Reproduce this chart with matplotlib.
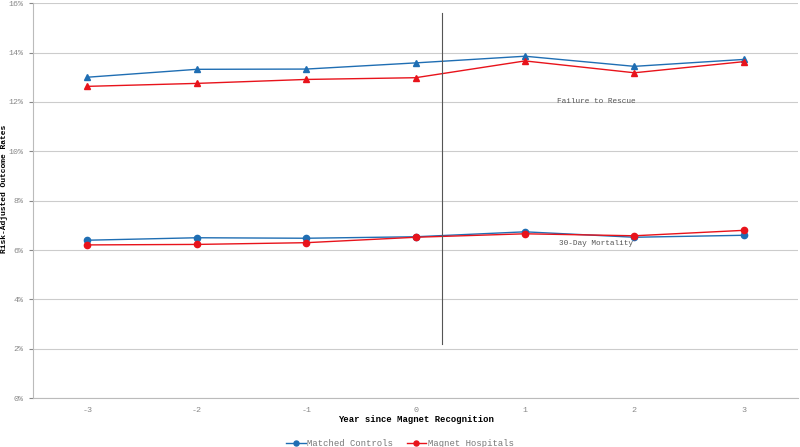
import numpy as np
import matplotlib.pyplot as plt

years = [-3, -2, -1, 0, 1, 2, 3]
ftr_controls = [13.00, 13.32, 13.33, 13.58, 13.85, 13.44, 13.72]
ftr_magnet = [12.63, 12.75, 12.91, 12.98, 13.66, 13.18, 13.63]
mort_controls = [6.40, 6.50, 6.48, 6.54, 6.74, 6.52, 6.60]
mort_magnet = [6.21, 6.23, 6.30, 6.52, 6.66, 6.58, 6.80]

blue = '#1f6eb3'
red = '#e8131b'

plt.rcParams['font.family'] = ['Liberation Mono', 'DejaVu Sans Mono']

fig = plt.figure(figsize=(8, 4.47), dpi=100)
ax = fig.add_axes([0.041, 0.109, 0.957, 0.884])
x = np.arange(len(years))

ax.plot(x, ftr_controls, color=blue, lw=1, marker='^', ms=4.5)
ax.plot(x, ftr_magnet, color=red, lw=1, marker='^', ms=4.5)
ax.plot(x, mort_controls, color=blue, lw=1, marker='o', ms=4.5, label='Matched Controls')
ax.plot(x, mort_magnet, color=red, lw=1, marker='o', ms=4.5, label='Magnet Hospitals')

# marker for magnet recognition
ax.plot([3.24, 3.24], [2.2, 15.6], color='#555555', lw=0.8)

ax.text(4.65, 12.0, 'Failure to Rescue', fontsize=5.6, color='#555555', ha='center', va='center')
ax.text(4.65, 6.25, '30-Day Mortality', fontsize=5.6, color='#555555', ha='center', va='center')

ax.set_xlim(-0.5, 6.5)
ax.set_ylim(0, 16)
ax.set_xticks(x)
ax.set_xticklabels([str(y) for y in years])
ax.set_yticks(np.arange(0, 17, 2))
ax.set_yticklabels([f'{v}%' for v in range(0, 17, 2)])
ax.tick_params(labelsize=6, colors='#888888', length=3, pad=4)
ax.tick_params(axis='x', length=0, pad=6)
ax.grid(axis='y', color='#cccccc', lw=0.8)
ax.set_axisbelow(True)
for s in ['top', 'right']:
    ax.spines[s].set_visible(False)
for s in ['left', 'bottom']:
    ax.spines[s].set_color('#bbbbbb')

ax.set_xlabel('Year since Magnet Recognition', fontsize=6.4, fontweight='bold', labelpad=1)
ax.set_ylabel('Risk-Adjusted Outcome Rates', fontsize=5.8, fontweight='bold')
ax.yaxis.set_label_coords(-0.033, 0.53)

fig.legend(loc='lower center', bbox_to_anchor=(0.5, -0.02), ncol=2, frameon=False,
           fontsize=6.4, handlelength=2.2, handletextpad=0.2, columnspacing=1.5,
           labelcolor='#777777', markerscale=0.8)

fig.savefig('out.png', dpi=100)
